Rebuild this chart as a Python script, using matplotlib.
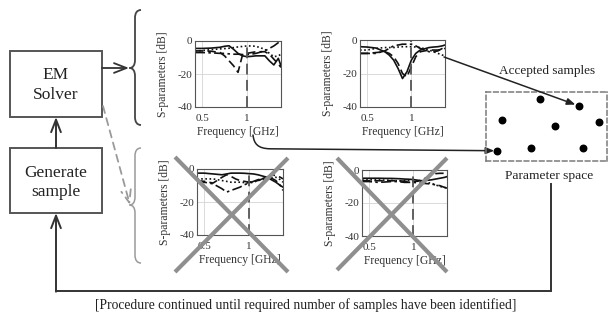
import matplotlib
matplotlib.use('Agg')
import matplotlib.pyplot as plt
from matplotlib.path import Path
from matplotlib.patches import PathPatch, Rectangle, FancyArrowPatch, ConnectionPatch

plt.rcParams['font.family'] = ['Liberation Serif', 'DejaVu Serif']

# ---------------- data ----------------
freq = [0.42, 0.5, 0.6, 0.7, 0.75, 0.8, 0.85, 0.9, 0.95, 1.0, 1.05, 1.1, 1.2, 1.25, 1.3, 1.35, 1.38]

# top-left panel (accepted sample)
tl_solid   = [-4.5, -4.5, -4.3, -3.8, -3.2, -2.9, -5.0, -7.5, -9.0, -9.5, -9.3, -9.0, -9.0, -12.0, -14.5, -10.5, -15.0]
tl_dashed  = [-6.0, -6.0, -6.2, -7.0, -9.0, -12.0, -15.0, -19.0, -8.5, -7.5, -7.0, -6.5, -6.5, -8.0, -11.0, -14.0, -16.0]
tl_dashdot = [-7.0, -7.0, -7.2, -7.5, -7.5, -7.8, -8.0, -8.0, -8.2, -8.3, -8.0, -7.5, -6.0, -4.5, -3.0, -1.0, -0.5]
tl_dotted  = [-6.0, -5.8, -5.2, -4.8, -4.6, -4.4, -4.0, -3.6, -3.3, -3.0, -3.0, -3.2, -5.0, -7.5, -9.5, -9.0, -8.0]

# top-right panel (accepted sample)
tr_solid   = [-4.0, -4.2, -4.8, -7.0, -9.0, -12.0, -17.0, -23.0, -19.0, -12.0, -8.0, -6.0, -4.5, -4.2, -4.0, -3.5, -3.0]
tr_dashed  = [-8.0, -8.0, -7.5, -7.0, -8.0, -10.0, -14.0, -20.0, -22.0, -16.0, -10.0, -7.0, -6.0, -6.0, -6.0, -5.5, -5.0]
tr_dashdot = [-8.0, -8.0, -8.0, -6.5, -5.0, -3.5, -3.0, -2.5, -2.5, -2.5, -3.5, -5.0, -7.0, -7.0, -6.5, -5.0, -4.0]
tr_dotted  = [-6.0, -6.0, -5.0, -4.5, -4.5, -4.5, -4.2, -4.0, -4.0, -4.0, -4.2, -4.5, -6.0, -7.0, -8.0, -9.0, -9.5]

# bottom-left panel (rejected sample)
bl_solid   = [-2.5, -2.5, -3.0, -3.5, -3.0, -2.5, -2.5, -2.5, -2.6, -2.8, -3.0, -3.5, -5.0, -6.5, -8.0, -10.0, -11.0]
bl_dashed  = [-7.0, -7.5, -8.5, -5.0, -3.5, -4.5, -6.0, -7.0, -7.5, -8.0, -7.5, -7.0, -5.0, -3.5, -4.0, -5.0, -6.0]
bl_dashdot = [-8.0, -8.0, -9.0, -12.0, -14.0, -13.0, -12.0, -11.0, -9.5, -8.5, -7.5, -6.5, -5.0, -5.5, -7.0, -10.0, -13.0]
bl_dotted  = [-6.0, -6.0, -6.0, -7.0, -7.5, -8.0, -8.0, -8.0, -8.2, -8.5, -8.0, -7.0, -6.0, -5.5, -5.0, -6.5, -8.0]

# bottom-right panel (rejected sample)
br_solid   = [-5.0, -5.0, -5.0, -5.1, -5.1, -5.2, -5.3, -5.5, -5.6, -5.8, -6.2, -6.5, -6.0, -5.5, -5.0, -4.5, -4.0]
br_dashed  = [-6.5, -6.5, -6.5, -6.5, -6.5, -6.5, -6.6, -6.8, -7.0, -7.0, -6.8, -6.0, -3.0, -2.2, -2.0, -2.0, -2.0]
br_dashdot = [-7.0, -7.0, -7.5, -7.2, -7.0, -7.0, -7.2, -7.5, -7.5, -7.5, -7.8, -8.0, -8.5, -9.0, -9.5, -10.5, -11.0]
br_dotted  = [-6.0, -6.0, -6.0, -6.2, -6.3, -6.5, -6.5, -6.5, -6.5, -6.5, -6.8, -7.0, -8.0, -9.0, -10.0, -10.5, -11.0]

x_ticks = [0.5, 1.0]
x_tick_labels = ['0.5', '1']
y_ticks = [0, -20, -40]
y_tick_labels = ['0', '-20', '-40']

# samples in normalized parameter space
sample_u = [0.446, 0.771, 0.130, 0.573, 0.931, 0.093, 0.372, 0.804]
sample_v = [0.894, 0.797, 0.594, 0.507, 0.561, 0.149, 0.193, 0.193]

# ---------------- figure ----------------
W, H = 610, 317
fig = plt.figure(figsize=(W / 100, H / 100), dpi=100)
main = fig.add_axes([0, 0, 1, 1])
main.set_xlim(0, W)
main.set_ylim(H, 0)
main.axis('off')

def px_axes(x0, y0, x1, y1):
    return fig.add_axes([x0 / W, 1 - y1 / H, (x1 - x0) / W, (y1 - y0) / H])

DARK = '#333333'
TXT = '#222222'

# boxes
for (x0, y0, x1, y1) in [(10, 51, 102, 117), (10, 148, 102, 213)]:
    main.add_patch(Rectangle((x0, y0), x1 - x0, y1 - y0, fill=False, ec='#555555', lw=1.4))
main.text(56, 75, 'EM', ha='center', va='center', fontsize=12.5, color=TXT)
main.text(56, 95, 'Solver', ha='center', va='center', fontsize=12.5, color=TXT)
main.text(56, 173, 'Generate', ha='center', va='center', fontsize=12.5, color=TXT)
main.text(56, 192, 'sample', ha='center', va='center', fontsize=12.5, color=TXT)

# arrows between boxes and braces
ah = '->,head_length=0.9,head_width=0.35'
main.annotate('', xy=(56, 117), xytext=(56, 148),
              arrowprops=dict(arrowstyle=ah, lw=1.4, color=DARK, shrinkA=0, shrinkB=0))
main.annotate('', xy=(129, 68), xytext=(102, 68),
              arrowprops=dict(arrowstyle=ah, lw=1.3, color=DARK, shrinkA=0, shrinkB=0))
main.annotate('', xy=(130, 205), xytext=(103, 106),
              arrowprops=dict(arrowstyle=ah, lw=1.3, color='#9a9a9a', ls=(0, (4, 3)),
                              shrinkA=0, shrinkB=0))

def brace(top, tip, bottom, color, lw):
    xe, xb, xt = 141, 135, 129.5
    verts = [(xe, top), (xb + 2, top), (xb, top + 3), (xb, top + 8),
             (xb, tip - 8),
             (xb, tip - 3), (xb - 2, tip), (xt, tip),
             (xb - 2, tip), (xb, tip + 3), (xb, tip + 8),
             (xb, bottom - 8),
             (xb, bottom - 3), (xb + 2, bottom), (xe, bottom)]
    codes = [Path.MOVETO, Path.CURVE4, Path.CURVE4, Path.CURVE4,
             Path.LINETO,
             Path.CURVE4, Path.CURVE4, Path.CURVE4,
             Path.CURVE4, Path.CURVE4, Path.CURVE4,
             Path.LINETO,
             Path.CURVE4, Path.CURVE4, Path.CURVE4]
    main.add_patch(PathPatch(Path(verts, codes), fill=False, ec=color, lw=lw))

brace(10, 68, 125, '#444444', 1.3)
brace(148, 205, 263, '#9a9a9a', 1.1)

# feedback loop
main.plot([551, 551, 56], [184, 291, 291], color=DARK, lw=1.4, solid_joinstyle='miter')
main.annotate('', xy=(56, 213), xytext=(56, 291.7),
              arrowprops=dict(arrowstyle=ah, lw=1.4, color=DARK, shrinkA=0, shrinkB=0))

main.text(306, 305, '[Procedure continued until required number of samples have been identified]',
          ha='center', va='center', fontsize=9.8, color=TXT)
main.text(547, 71, 'Accepted samples', ha='center', va='center', fontsize=9.5, color=TXT)
main.text(549, 176, 'Parameter space', ha='center', va='center', fontsize=9.7, color=TXT)

# ---------------- S-parameter panels ----------------
styles = [dict(ls='-'), dict(ls=(0, (5, 2.5))), dict(ls=(0, (6, 2, 1.5, 2))), dict(ls=(0, (1, 1.5)))]

def panel(rect, series):
    ax = px_axes(*rect)
    for s, st in zip(series, styles):
        ax.plot(freq, s, color='#111111', lw=1.2, **st)
    ax.axvline(1.0, color='#555555', lw=1.3, ls=(0, (6, 3)))
    ax.set_xlim(0.42, 1.38)
    ax.set_ylim(-40, 0)
    ax.set_xticks(x_ticks)
    ax.set_xticklabels(x_tick_labels)
    ax.set_yticks(y_ticks)
    ax.set_yticklabels(y_tick_labels)
    ax.tick_params(length=0, labelsize=8, colors='#333333')
    ax.tick_params(axis='x', pad=5)
    ax.tick_params(axis='y', pad=2)
    ax.grid(color='#d4d4d4', lw=0.6)
    for sp in ax.spines.values():
        sp.set_color('#555555')
        sp.set_linewidth(0.8)
    ax.set_ylabel('S-parameters [dB]', fontsize=8.4, color='#333333', labelpad=6)
    ax.set_xlabel('Frequency [GHz]', fontsize=8.4, color='#333333', labelpad=2)
    return ax

ax_tl = panel((195, 41, 281, 107), [tl_solid, tl_dashed, tl_dashdot, tl_dotted])
ax_tr = panel((360, 40, 445, 107), [tr_solid, tr_dashed, tr_dashdot, tr_dotted])
ax_bl = panel((197, 169, 283, 235), [bl_solid, bl_dashed, bl_dashdot, bl_dotted])
ax_br = panel((362, 170, 447, 236), [br_solid, br_dashed, br_dashdot, br_dotted])

# ---------------- parameter space ----------------
pax = px_axes(486, 92, 607, 161)
pax.set_xlim(0, 1)
pax.set_ylim(0, 1)
pax.set_xticks([])
pax.set_yticks([])
pax.patch.set_alpha(0)
for sp in pax.spines.values():
    sp.set_color('#7a7a7a')
    sp.set_linewidth(1.1)
    sp.set_linestyle((0, (3, 2)))
pax.scatter(sample_u, sample_v, s=22, color='black', zorder=3, clip_on=False)

# arrow from top-right panel to an accepted sample
con1 = ConnectionPatch(xyA=(444, 57), coordsA=main.transData,
                       xyB=(sample_u[1], sample_v[1]), coordsB=pax.transData,
                       arrowstyle='-|>,head_length=0.5,head_width=0.2', mutation_scale=10,
                       lw=1.1, color='#222222', shrinkA=0, shrinkB=3)
fig.add_artist(con1)

# curved arrow from top-left panel to another accepted sample
end_disp = pax.transData.transform((sample_u[5], sample_v[5]))
ex, ey = main.transData.inverted().transform(end_disp)
ex -= 3
verts = [(253, 135), (254, 144), (258, 148.5), (270, 148.8), (ex, ey)]
codes = [Path.MOVETO, Path.CURVE4, Path.CURVE4, Path.CURVE4, Path.LINETO]
arr2 = FancyArrowPatch(path=Path(verts, codes), arrowstyle='-|>,head_length=0.5,head_width=0.2',
                       mutation_scale=10, lw=1.1, color='#222222')
main.add_patch(arr2)

# ---------------- rejection crosses (overlay) ----------------
over = fig.add_axes([0, 0, 1, 1])
over.set_xlim(0, W)
over.set_ylim(H, 0)
over.axis('off')
over.patch.set_alpha(0)
gray = '#8f8f8f'
for (a, b, c, d) in [((175, 157), (288, 272), (288, 158), (175, 272)),
                     ((337, 158), (447, 272), (447, 158), (337, 270))]:
    over.plot([a[0], b[0]], [a[1], b[1]], color=gray, lw=3.0, solid_capstyle='butt')
    over.plot([c[0], d[0]], [c[1], d[1]], color=gray, lw=3.0, solid_capstyle='butt')

fig.savefig('out.png', dpi=100)
